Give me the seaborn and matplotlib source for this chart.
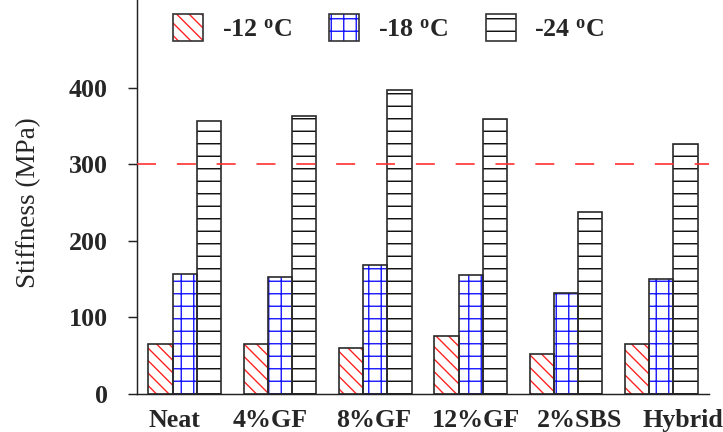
import matplotlib
matplotlib.use("Agg")
import matplotlib.pyplot as plt
import matplotlib.transforms as mtransforms
import seaborn as sns
import pandas as pd
from matplotlib.patches import Rectangle
from matplotlib.legend_handler import HandlerPatch

mixes = ["Neat", "4%GF", "8%GF", "12%GF", "2%SBS", "Hybrid"]
temps = ["-12 $^{\\mathrm{o}}$C", "-18 $^{\\mathrm{o}}$C", "-24 $^{\\mathrm{o}}$C"]
s_m12 = [66, 66, 60, 76, 52, 66]
s_m18 = [157, 153, 168, 155, 132, 150]
s_m24 = [357, 363, 397, 359, 238, 327]
hatches = ["\\\\", "+", "-"]
hatch_colors = ["#ff2020", "#1010ff", "#000000"]
limit = 300
label_shift_px = [-10, -10, -2, 5, 14, 22]

rows = []
for t, vals in zip(temps, [s_m12, s_m18, s_m24]):
    for m, v in zip(mixes, vals):
        rows.append({"mix": m, "temp": t, "stiffness": v})
df = pd.DataFrame(rows)

sns.set_style("white")
plt.rcParams["font.family"] = ["Liberation Serif", "DejaVu Serif"]
plt.rcParams["mathtext.fontset"] = "custom"
plt.rcParams["mathtext.rm"] = "Liberation Serif:bold"
plt.rcParams["mathtext.it"] = "Liberation Serif:bold"
plt.rcParams["hatch.linewidth"] = 1.3

DPI = 75
fig = plt.figure(figsize=(723 / DPI, 432 / DPI), dpi=DPI)
ax = fig.add_axes([137 / 723, 38 / 432, (709 - 137) / 723, (432 - 38) / 432])

sns.barplot(data=df, x="mix", y="stiffness", hue="temp", order=mixes,
            hue_order=temps, palette=["white"] * 3, width=0.76, gap=0,
            errorbar=None, ax=ax, legend=True, saturation=1)

n = len(mixes)
patches = list(ax.patches)
bar_patches = patches[:n * len(temps)]
for i, p in enumerate(bar_patches):
    k = i // n
    p.set_hatch(hatches[k])
    p.set_edgecolor(hatch_colors[k])
    p.set_linewidth(0)
    r = Rectangle(p.get_xy(), p.get_width(), p.get_height(), fill=False,
                  edgecolor="#2a2a2a", linewidth=1.6, zorder=p.get_zorder() + 0.1)
    ax.add_patch(r)

ax.axhline(limit, color="#ff3030", linestyle=(0, (11.4, 12.5)), linewidth=1.6,
           zorder=5)

leg = ax.get_legend()
if leg is not None:
    leg.remove()
handles = []
for k, t in enumerate(temps):
    h = Rectangle((0, 0), 1, 1, facecolor="white", hatch=hatches[k],
                  edgecolor=hatch_colors[k], linewidth=0)
    handles.append(h)


class OutlinedHandler(HandlerPatch):
    def create_artists(self, legend, orig_handle, xdescent, ydescent, width,
                       height, fontsize, trans):
        arts = super().create_artists(legend, orig_handle, xdescent, ydescent,
                                      width, height, fontsize, trans)
        p = arts[0]
        p.set_hatch(orig_handle.get_hatch())
        p.set_edgecolor(orig_handle.get_edgecolor())
        p.set_linewidth(0)
        o = Rectangle((-xdescent, -ydescent), width, height, fill=False,
                      edgecolor="#333333", linewidth=1.6, transform=trans)
        return [p, o]


ax.legend(handles, temps, handler_map={Rectangle: OutlinedHandler()},
          loc="center", bbox_to_anchor=(0.44, 0.929), ncol=3,
          frameon=False, handlelength=1.15, handleheight=1.2,
          columnspacing=1.45, handletextpad=0.72, borderpad=0, borderaxespad=0,
          prop={"family": "Liberation Serif", "weight": "bold", "size": 25})

ax.set_xlim(-0.5, n - 0.5)
ax.set_ylim(0, 515)
ax.set_yticks([0, 100, 200, 300, 400])
ax.set_xlabel("")
ax.set_ylabel("Stiffness (MPa)", fontsize=26)
ax.yaxis.set_label_coords(-0.168, 0.485)
for lab in ax.get_yticklabels():
    lab.set_fontweight("bold")
    lab.set_fontsize(25)
for lab in ax.get_xticklabels():
    lab.set_fontweight("bold")
    lab.set_fontsize(25)

sns.despine(ax=ax)
for s in ["left", "bottom"]:
    ax.spines[s].set_color("#222222")
    ax.spines[s].set_linewidth(1.4)
ax.tick_params(axis="y", which="major", left=True, length=9, width=1.4,
               color="#222222", direction="out", pad=19)
ax.tick_params(axis="x", bottom=False, pad=11)

for lab, dx in zip(ax.get_xticklabels(), label_shift_px):
    lab.set_transform(lab.get_transform() +
                      mtransforms.ScaledTranslation(dx / DPI, 0, fig.dpi_scale_trans))

fig.savefig("out.png", dpi=DPI)
